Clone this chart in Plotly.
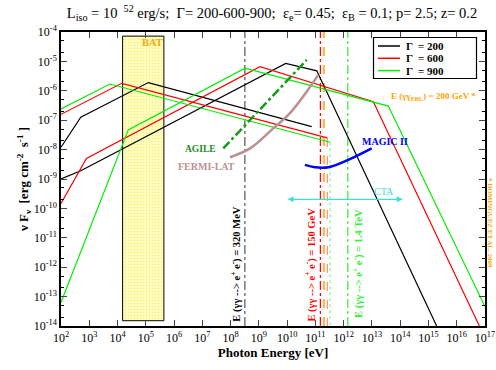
import numpy as np
import plotly.graph_objects as go

# ---------------- data (log10 values) ----------------
sync_200_logE = [2.0, 2.70, 5.09, 10.87]
sync_200_logF = [-7.92, -6.90, -5.72, -7.22]
ic_200_logE = [2.0, 2.70, 9.95, 11.05, 15.29]
ic_200_logF = [-9.00, -8.72, -5.07, -5.32, -14.0]

sync_600_logE = [2.0, 4.15, 11.42]
sync_600_logF = [-6.80, -5.745, -7.60]
ic_600_logE = [2.0, 2.90, 9.04, 13.05, 16.80]
ic_600_logF = [-9.83, -8.30, -5.18, -6.37, -14.0]

sync_900_logE = [2.0, 3.73, 11.52]
sync_900_logF = [-6.62, -5.77, -7.75]
ic_900_logE = [2.0, 4.38, 8.51, 13.58, 17.0]
ic_900_logF = [-13.2, -7.33, -5.23, -6.52, -13.34]

agile_logE = [7.74, 10.69]
agile_logF = [-7.96, -4.95]

fermi_logE = [7.98, 8.69, 9.51, 10.10, 10.69, 11.10]
fermi_logF = [-8.26, -7.96, -7.28, -6.76, -6.03, -5.46]

magic_logE = [10.63, 10.98, 11.46, 12.16, 12.99]
magic_logF = [-8.52, -8.60, -8.60, -8.35, -7.96]

cta_logE = [9.96, 14.09]
cta_logF = -9.69

bat_logE = [4.18, 5.64]
bat_logF = [-13.82, -4.14]

pair_energies = [3.2e8, 1.5e11, 1.4e12]   # eV
ebl_energy = 2.0e11                        # eV
legend_labels = ["Γ  = 200", "Γ  = 600", "Γ  = 900"]
legend_colors = ["black", "#ff0000", "#00ee00"]
x_range = [2, 17]
y_range = [-14, -4]

def p(a):
    return np.power(10.0, np.array(a, dtype=float))

FONT = "Liberation Serif"
W, H = 496, 370
L, R, T, B = 61, 11, 32, 44
fig = go.Figure()

# BAT box
bx = p([bat_logE[0], bat_logE[1], bat_logE[1], bat_logE[0], bat_logE[0]])
by = p([bat_logF[0], bat_logF[0], bat_logF[1], bat_logF[1], bat_logF[0]])
fig.add_trace(go.Scatter(x=bx, y=by, mode="lines", fill="toself",
                         fillcolor="#ffffc0",
                         fillpattern=dict(shape=".", fgcolor="#f2e24a", bgcolor="#ffffc8",
                                          size=3, solidity=0.35),
                         line=dict(color="black", width=1), showlegend=False, hoverinfo="skip"))

# vertical pair-production lines
ymin, ymax = 10.0 ** y_range[0], 10.0 ** y_range[1]
fig.add_trace(go.Scatter(x=[pair_energies[0]] * 2, y=[ymin, ymax], mode="lines",
                         line=dict(color="#555555", width=1.2, dash="dashdot"), showlegend=False))
fig.add_trace(go.Scatter(x=[pair_energies[1]] * 2, y=[ymin, ymax], mode="lines",
                         line=dict(color="#ff0000", width=1.2, dash="dashdot"), showlegend=False))
fig.add_trace(go.Scatter(x=[ebl_energy] * 2, y=[ymin, ymax], mode="lines",
                         line=dict(color="#ffb84d", width=2.2, dash="dash"), showlegend=False))
fig.add_trace(go.Scatter(x=[pair_energies[2]] * 2, y=[ymin, ymax], mode="lines",
                         line=dict(color="#33ee33", width=1.2, dash="dashdot"), showlegend=False))
# thin cut-off lines at end of synchrotron components
fig.add_trace(go.Scatter(x=p([sync_600_logE[-1]] * 2), y=[10 ** sync_600_logF[-1], ymin], mode="lines",
                         line=dict(color="#ff3333", width=0.7, dash="dash"), showlegend=False))
fig.add_trace(go.Scatter(x=p([sync_900_logE[-1]] * 2), y=[10 ** sync_900_logF[-1], ymin], mode="lines",
                         line=dict(color="#33ee33", width=0.7, dash="dot"), showlegend=False))

# model curves
for le, lf, c in [
    (sync_200_logE, sync_200_logF, legend_colors[0]),
    (ic_200_logE, ic_200_logF, legend_colors[0]),
    (sync_600_logE, sync_600_logF, legend_colors[1]),
    (ic_600_logE, ic_600_logF, legend_colors[1]),
    (sync_900_logE, sync_900_logF, legend_colors[2]),
    (ic_900_logE, ic_900_logF, legend_colors[2]),
]:
    fig.add_trace(go.Scatter(x=p(le), y=p(lf), mode="lines",
                             line=dict(color=c, width=1.2), showlegend=False))

# instruments
fig.add_trace(go.Scatter(x=p(agile_logE), y=p(agile_logF), mode="lines",
                         line=dict(color="#1a9a1a", width=2.5, dash="dashdot"), showlegend=False))
fig.add_trace(go.Scatter(x=p(fermi_logE), y=p(fermi_logF), mode="lines", line_shape="spline",
                         line=dict(color="#bc8f8f", width=2.5), showlegend=False))
fig.add_trace(go.Scatter(x=p(magic_logE), y=p(magic_logF), mode="lines", line_shape="spline",
                         line=dict(color="#0000ff", width=2.5), showlegend=False))

ann = []
def lab(x, y, text, color, size=10.5, angle=0, xref="x", yref="y", **kw):
    ann.append(dict(x=x, y=y, xref=xref, yref=yref, text=text, showarrow=False, textangle=angle,
                    font=dict(family=FONT, size=size, color=color), **kw))

pw, ph = W - L - R, H - T - B
def px(xp):
    return (xp - L) / pw
def py(yp):
    return 1 - (yp - T) / ph

lab(5.22, -4.37, "<b>BAT</b>", "#ffa500")
lab(6.92, -7.99, "<b>AGILE</b>", "#1a8c1a", size=9.5)
lab(7.15, -8.56, "<b>FERMI-LAT</b>", "#bc8f8f", size=10)
lab(13.46, -7.73, "<b>MAGIC II</b>", "#0000ff", size=10)
lab(13.43, -9.43, "CTA", "#40e0d0", size=10)
lab(px(478), py(88.5), "<b>E (γγ<sub>EBL</sub>) = 200 GeV *</b>", "#ffa500", size=9,
    xref="paper", yref="paper", xanchor="right")
lab(8.18, -11.89, "<b>E (γγ --> e<sup>+</sup> e<sup>-</sup>) = 320 MeV</b>", "black", angle=-90)
lab(10.81, -11.91, "<b>E (γγ --> e<sup>+</sup> e<sup>-</sup>) = 150 GeV</b>", "#ff0000", angle=-90)
lab(12.50, -11.86, "<b>E (γγ --> e<sup>+</sup> e<sup>-</sup>) = 1.4 TeV</b>", "#33ee33", angle=-90)
lab(px(496), py(270), "<b>* DOMINGUEZ ET AL. 2009</b>", "#ffa500", size=7, angle=90,
    xref="paper", yref="paper")

# CTA double arrow
ann.append(dict(x=cta_logE[1], y=cta_logF, ax=cta_logE[0], ay=cta_logF, xref="x", yref="y",
                axref="x", ayref="y", showarrow=True, arrowhead=2, startarrowhead=2,
                arrowside="end+start", arrowcolor="#40e0d0", arrowwidth=1.2, arrowsize=1,
                text=""))

# legend box drawn in paper coordinates (pixel positions converted)
shapes = [dict(type="rect", xref="paper", yref="paper", x0=px(373.5), x1=px(476.5),
               y0=py(78.5), y1=py(37.5), line=dict(color="black", width=1.2),
               fillcolor="white", layer="above")]
for i, (lbl, col) in enumerate(zip(legend_labels, legend_colors)):
    yy = 46 + i * 12.3
    shapes.append(dict(type="line", xref="paper", yref="paper", x0=px(378), x1=px(400),
                       y0=py(yy), y1=py(yy), line=dict(color=col, width=1.5), layer="above"))
    ann.append(dict(x=px(404), y=py(yy), xref="paper", yref="paper", xanchor="left",
                    yanchor="middle", showarrow=False, text="<b>%s</b>" % lbl,
                    font=dict(family=FONT, size=11, color="black")))

tickvals_x = [10.0 ** k for k in range(2, 18)]
ticktext_x = ["10<sup>%d</sup>" % k for k in range(2, 18)]
tickvals_y = [10.0 ** k for k in range(-14, -3)]
ticktext_y = ["10<sup>%d</sup>" % k for k in range(-14, -3)]

fig.update_layout(
    width=W, height=H,
    margin=dict(l=L, r=R, t=T, b=B, autoexpand=False),
    paper_bgcolor="white", plot_bgcolor="white",
    font=dict(family=FONT, size=12, color="black"),
    title=dict(text="L<sub>iso</sub> = 10 <sup> 52</sup> erg/s;  Γ= 200-600-900;  ε<sub>e</sub>= 0.45;  ε<sub>B</sub> = 0.1; p= 2.5; z= 0.2",
               x=272 / W, xanchor="center", y=1 - 13 / H, yanchor="middle",
               font=dict(family=FONT, size=14.5, color="black")),
    annotations=ann,
    shapes=shapes,
    showlegend=False,
)
fig.update_xaxes(type="log", range=x_range, tickvals=tickvals_x, ticktext=ticktext_x,
                 automargin=False,
                 ticks="inside", ticklen=6, tickwidth=1, mirror="allticks", showline=True,
                 linecolor="black", linewidth=1.5, showgrid=False, zeroline=False,
                 minor=dict(ticks="inside", ticklen=3, tickcolor="black", showgrid=False),
                 tickfont=dict(family=FONT, size=12),
                 title=dict(text="<b>Photon Energy [eV]</b>", font=dict(family=FONT, size=13), standoff=4))
fig.update_yaxes(type="log", range=y_range, tickvals=tickvals_y, ticktext=ticktext_y,
                 automargin=False,
                 ticks="inside", ticklen=6, tickwidth=1, mirror="allticks", showline=True,
                 linecolor="black", linewidth=1.5, showgrid=False, zeroline=False,
                 minor=dict(ticks="inside", ticklen=3, tickcolor="black", showgrid=False),
                 tickfont=dict(family=FONT, size=12),
                 title=dict(text="<b>ν F<sub>ν</sub>  [erg cm<sup>-2</sup>  s<sup>-1</sup> ]</b>",
                            font=dict(family=FONT, size=13), standoff=2))

fig.write_html("out.html", config={"displayModeBar": False},
               post_script="document.body.style.margin='0px';document.body.style.overflow='hidden';")
